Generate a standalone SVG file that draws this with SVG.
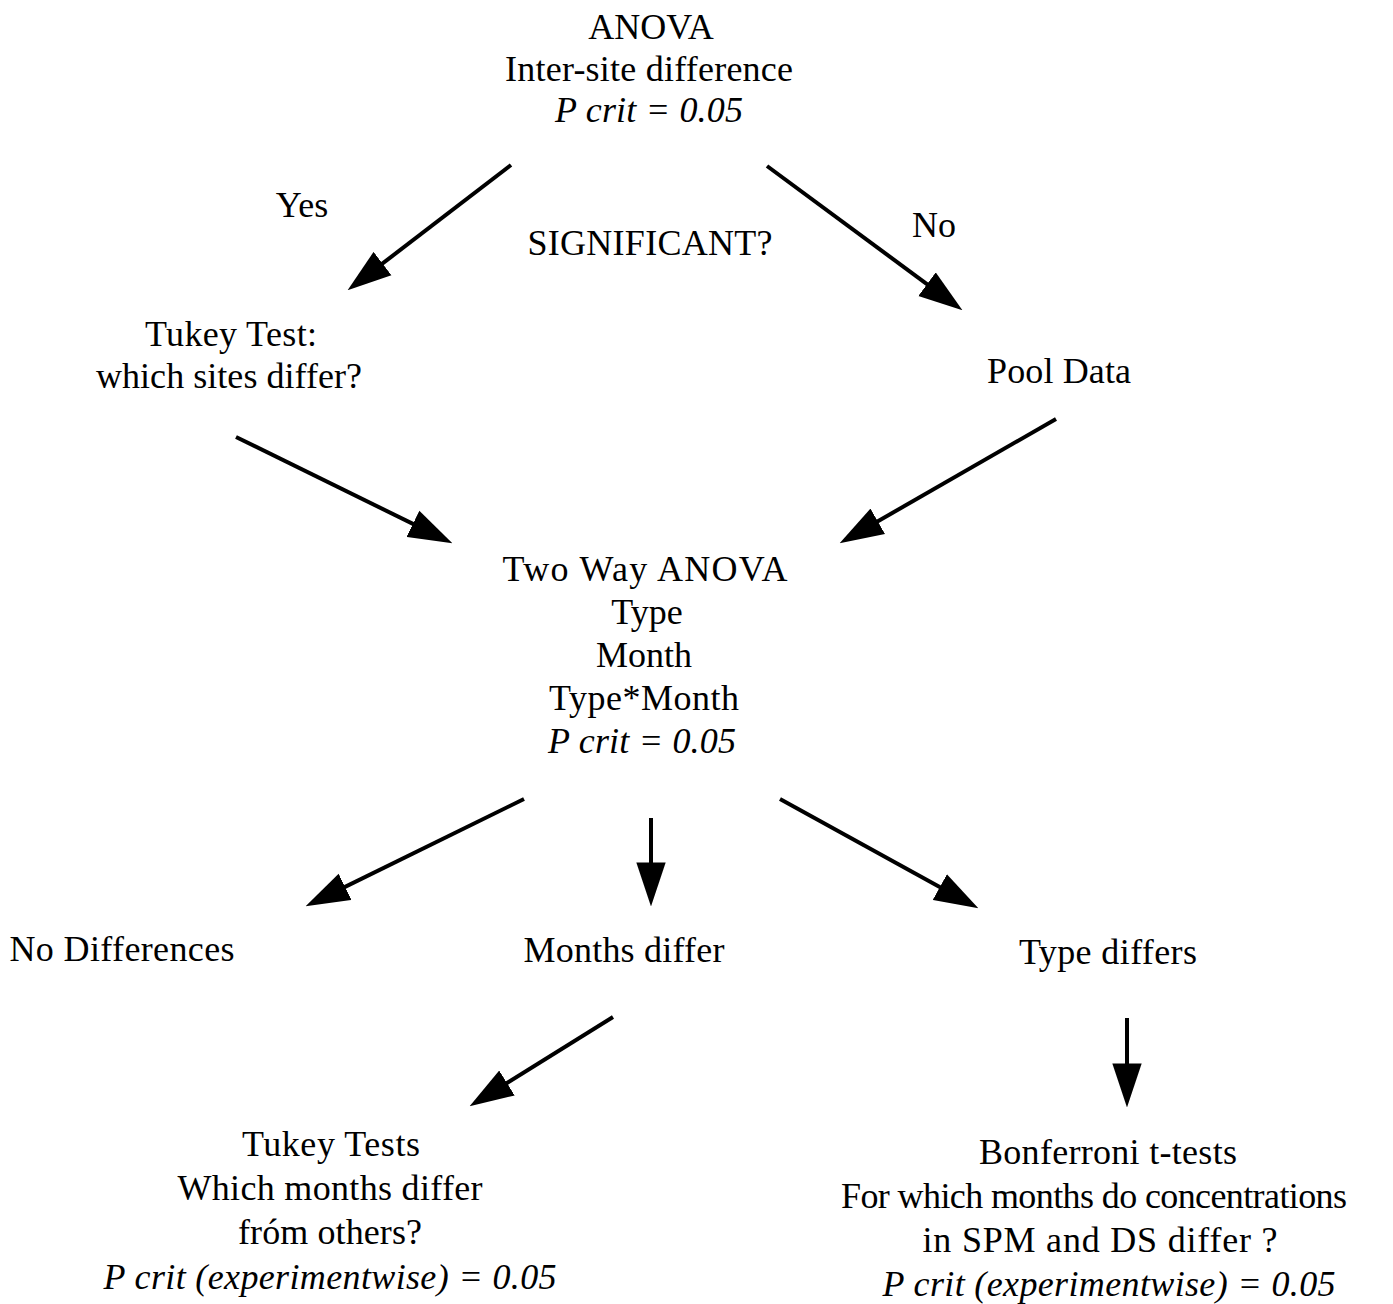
<svg xmlns="http://www.w3.org/2000/svg" width="1393" height="1304" viewBox="0 0 1393 1304">
  <defs>
    <style>
      text { font-family: "Liberation Serif", "Times New Roman", serif; font-size: 36px; fill: #000; text-anchor: middle; }
      .it { font-style: italic; }
      .edge { stroke: #000; stroke-width: 4; fill: none; marker-end: url(#head); }
    </style>
    <marker id="head" markerUnits="userSpaceOnUse" markerWidth="44" markerHeight="30" viewBox="0 0 42 28" refX="32" refY="14" orient="auto">
      <path d="M0,0 L42,14 L0,28 z" fill="#000"/>
    </marker>
  </defs>

  <rect width="1393" height="1304" fill="#fff"/>

  <!-- connectors -->
  <g id="connectors">
    <line class="edge" x1="511" y1="165" x2="355.9" y2="283.9"/>
    <line class="edge" x1="767" y1="166" x2="954" y2="304.1"/>
    <line class="edge" x1="236" y1="437" x2="443" y2="538.6"/>
    <line class="edge" x1="1056" y1="419" x2="848.7" y2="538"/>
    <line class="edge" x1="524" y1="799" x2="315" y2="901.6"/>
    <line class="edge" x1="651" y1="818" x2="651" y2="896"/>
    <line class="edge" x1="780" y1="799" x2="969.2" y2="903.2"/>
    <line class="edge" x1="613" y1="1017" x2="478.5" y2="1100.7"/>
    <line class="edge" x1="1127" y1="1018" x2="1127" y2="1097"/>
  </g>

  <!-- edge labels -->
  <g id="labels">
    <text x="302" y="217">Yes</text>
    <text x="650" y="255" textLength="245">SIGNIFICANT?</text>
    <text x="934" y="237">No</text>
  </g>

  <g id="anova">
    <text x="651" y="39">ANOVA</text>
    <text x="649" y="81" textLength="288">Inter-site difference</text>
    <text class="it" x="649" y="122" textLength="188">P crit = 0.05</text>
  </g>

  <g id="tukey-sites">
    <text x="231" y="346" textLength="172">Tukey Test:</text>
    <text x="229" y="388" textLength="266">which sites differ?</text>
  </g>

  <g id="pool-data">
    <text x="1059" y="383" textLength="144">Pool Data</text>
  </g>

  <g id="two-way-anova">
    <text x="645" y="581" textLength="285">Two Way ANOVA</text>
    <text x="647" y="624">Type</text>
    <text x="644" y="667">Month</text>
    <text x="644" y="710" textLength="190">Type*Month</text>
    <text class="it" x="642" y="753" textLength="188">P crit = 0.05</text>
  </g>

  <g id="no-differences">
    <text x="122" y="961" textLength="225">No Differences</text>
  </g>

  <g id="months-differ">
    <text x="624" y="962" textLength="201">Months differ</text>
  </g>

  <g id="type-differs">
    <text x="1108" y="964" textLength="178">Type differs</text>
  </g>

  <g id="tukey-months">
    <text x="331" y="1156" textLength="178">Tukey Tests</text>
    <text x="330" y="1200" textLength="305">Which months differ</text>
    <text x="330" y="1244" textLength="184">fróm others?</text>
    <text class="it" x="330" y="1289" textLength="453">P crit (experimentwise) = 0.05</text>
  </g>

  <g id="bonferroni">
    <text x="1108" y="1164" textLength="258">Bonferroni t-tests</text>
    <text x="1094" y="1208" textLength="506">For which months do concentrations</text>
    <text x="1100" y="1252" textLength="355">in SPM and DS differ ?</text>
    <text class="it" x="1109" y="1296" textLength="453">P crit (experimentwise) = 0.05</text>
  </g>
</svg>
